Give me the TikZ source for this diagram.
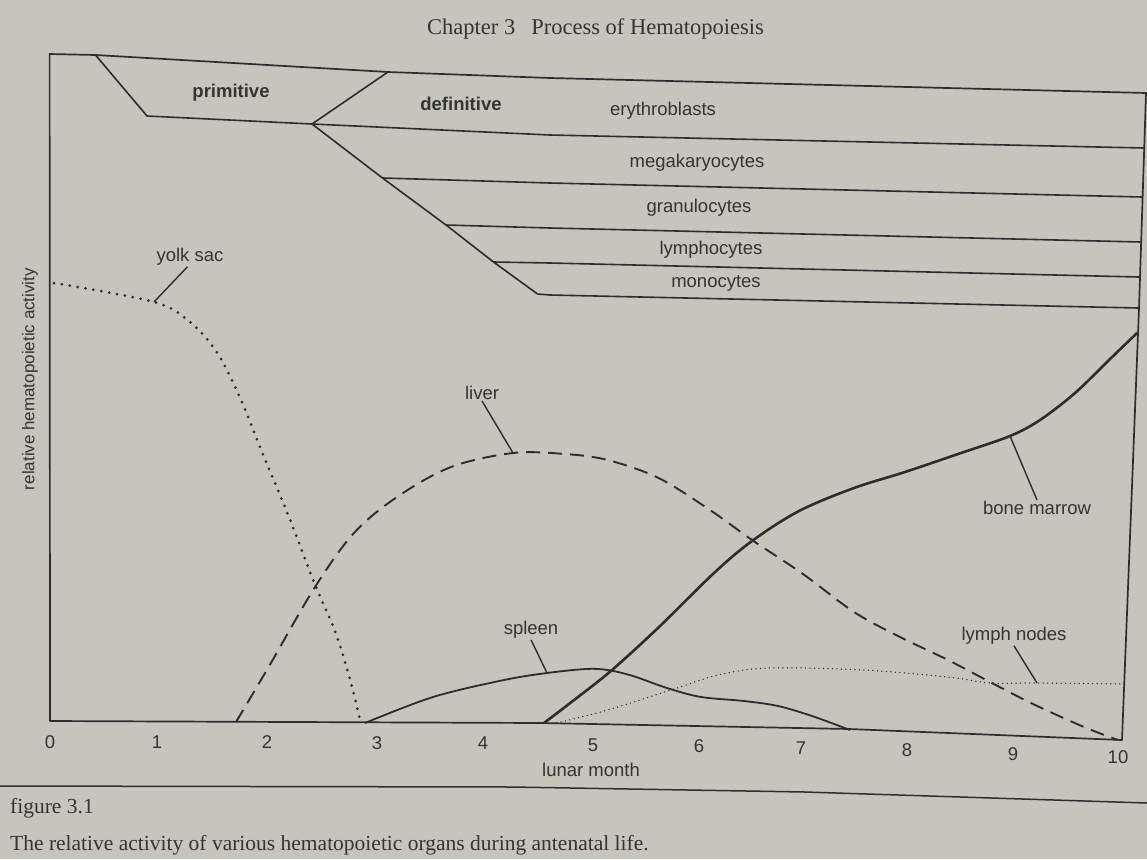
\documentclass[tikz,border=0pt]{standalone}
\usepackage{fontspec}
\setmainfont{Liberation Serif}
\setsansfont{Liberation Sans}
\definecolor{paper}{RGB}{198,197,188}
\definecolor{ink}{RGB}{45,45,42}
\definecolor{txt}{RGB}{52,52,48}
\tikzset{
  frameline/.style={draw=ink, line width=1.7pt, line join=round},
  bandline/.style={draw=ink, line width=1.6pt, line join=round},
  lab/.style={font=\sffamily\fontsize{18.5}{20}\selectfont, text=txt, inner sep=1pt},
  boldlab/.style={font=\sffamily\bfseries\fontsize{18.5}{20}\selectfont, text=txt, inner sep=1pt},
  ticklab/.style={font=\sffamily\fontsize{18.5}{20}\selectfont, text=txt, inner sep=0pt},
  leader/.style={draw=ink, line width=1.4pt},
  yolkcurve/.style={draw=ink, line width=3pt, line cap=round, dash pattern=on 0pt off 8pt},
  livercurve/.style={draw=ink, line width=1.9pt, dash pattern=on 14pt off 8pt},
  spleencurve/.style={draw=ink, line width=1.8pt},
  bonecurve/.style={draw=ink, line width=2.6pt},
  lymphcurve/.style={draw=ink, line width=1.5pt, line cap=round, dash pattern=on 0pt off 4.5pt},
  serifcap/.style={font=\fontsize{21.5}{24}\selectfont, text=txt, inner sep=0pt},
}
\begin{document}
\begin{tikzpicture}[x=1pt,y=-1pt]
\useasboundingbox (0,0) rectangle (1147,859);
\fill[paper] (0,0) rectangle (1147,859);

% title
\node[serifcap, font=\fontsize{22.5}{24}\selectfont, anchor=base west] (title) at (427,35) {Chapter 3\hspace{16pt}Process of Hematopoiesis};

% frame
\path[frameline] (50,721) -- (49.6,54) -- (95.5,55) -- (388,72) -- (550,78) -- (1146,93) -- (1139,308) -- (1122,740) -- (849,729) -- (541,723) -- cycle;

% bands
\path[bandline] (95.5,55) -- (147,116) -- (312,124) -- (388,72);
\path[bandline] (312,124) -- (550,135) -- (1144,148);
\path[bandline] (312,124) -- (382.5,178) -- (446,225) -- (493.5,262) -- (537.5,294);
\path[bandline] (382.5,178) -- (550,183) -- (1142,197);
\path[bandline] (446,225) -- (550,228) -- (1140.5,242);
\path[bandline] (493.5,262) -- (550,263) -- (1139,277);
\path[bandline] (537.5,294) -- (550,295) -- (1138,308);

\node[boldlab] (prim) at (231,93) {primitive};
\node[boldlab] (defi) at (461,104) {definitive};
\node[lab] (ery) at (663,111) {erythroblasts};
\node[lab] (mega) at (697,163) {megakaryocytes};
\node[lab] (gran) at (699,208) {granulocytes};
\node[lab] (lympho) at (711,250) {lymphocytes};
\node[lab] (mono) at (716,283) {monocytes};

% curve points used by leaders
\coordinate (yolkpt) at (154,302);
\coordinate (liverpt) at (513,453);
\coordinate (spleenpt) at (547,673);
\coordinate (bonept) at (1010,436);
\coordinate (lymphpt) at (1037,683);

% curves
\draw[yolkcurve] plot[smooth, tension=0.55] coordinates {(54,283) (yolkpt) (190,322) (218,354) (241,400) (262,452) (289,517) (314,582) (336,634) (351,683) (360,720)};
\draw[livercurve] plot[smooth, tension=0.55] coordinates {(236,722) (268.6,667) (315,587) (354,533) (397,497) (451,467) (liverpt) (565,454) (607.6,460) (658.6,478) (710,510) (752,540) (803,574) (854,612) (900,637) (948,660) (990,682) (1033,704) (1084,727) (1118,740)};
\draw[spleencurve] plot[smooth, tension=0.55] coordinates {(365,723) (433,697) (504,680) (spleenpt) (586,669) (607.6,670) (633,676) (667,688) (701,697) (744,701) (778,706) (812,716) (850,730)};
\draw[lymphcurve] plot[smooth, tension=0.55] coordinates {(556.6,723) (607.6,710) (671,690) (718,675) (769,668) (863,670) (948,677) (990,683) (lymphpt) (1126,684)};
\draw[bonecurve] plot[smooth, tension=0.55] coordinates {(544,723) (578,697) (612,670) (659,627) (714,573) (752,541) (799,511) (854,488) (905,472) (961,453) (bonept) (1040,420) (1075,393) (1109,360) (1137,333)};

% curve labels and leaders
\node[lab] (yolk) at (190,257) {yolk sac};
\node[lab] (liver) at (482,393) {liver};
\node[lab] (spleen) at (531,630) {spleen};
\node[lab] (bone) at (1037,508) {bone marrow};
\node[lab] (lymph) at (1014,636) {lymph nodes};
\draw[leader] (yolk.-105) -- (yolkpt);
\draw[leader] (liver.south) -- (liverpt);
\draw[leader] (spleen.south) -- (spleenpt);
\draw[leader] (bone.north) -- (bonept);
\draw[leader] (lymph.south) -- (lymphpt);

% axis labels
\node[ticklab] (t0) at (50,742) {0};
\node[ticklab] (t1) at (157,742) {1};
\node[ticklab] (t2) at (267,742) {2};
\node[ticklab] (t3) at (377,743) {3};
\node[ticklab] (t4) at (483,743) {4};
\node[ticklab] (t5) at (593,745) {5};
\node[ticklab] (t6) at (699,746) {6};
\node[ticklab] (t7) at (801,748) {7};
\node[ticklab] (t8) at (907,750) {8};
\node[ticklab] (t9) at (1013,754) {9};
\node[ticklab] (t10) at (1118,757) {10};
\node[lab] (xlab) at (591,770) {lunar month};
\node[lab, font=\sffamily\fontsize{17}{18}\selectfont, rotate=90] (ylab) at (30,379) {relative hematopoietic activity};

% bottom rule and caption
\draw[ink, line width=1.5pt] (0,786) -- (512,787) -- (805,792) -- (1147,803);
\node[serifcap, anchor=base west] (fig) at (10,813) {figure 3.1};
\node[serifcap, anchor=base west] (cap) at (10,850) {The relative activity of various hematopoietic organs during antenatal life.};
\end{tikzpicture}
\end{document}
